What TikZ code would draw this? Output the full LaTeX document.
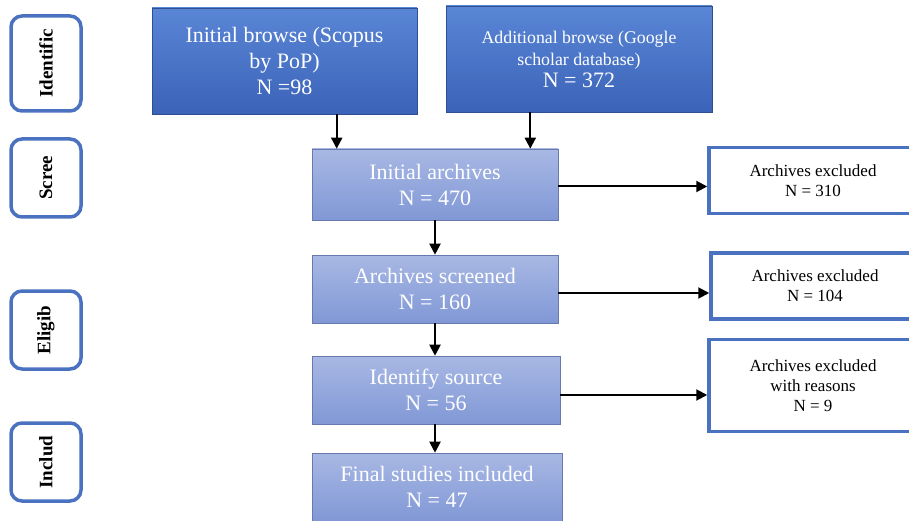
\documentclass[tikz,border=0pt]{standalone}
\usepackage{fontspec}
\setmainfont{Liberation Serif}
\usetikzlibrary{arrows.meta,calc}
\definecolor{dkblue}{HTML}{4472C4}
\definecolor{dktop}{HTML}{5A86D6}
\definecolor{dkbot}{HTML}{3B63B8}
\definecolor{lttop}{HTML}{A8B8E4}
\definecolor{ltbot}{HTML}{8198D6}
\definecolor{edgeblue}{HTML}{4A72C0}
\begin{document}
\begin{tikzpicture}[x=1pt,y=-1pt,
  darkbox/.style={draw=dkbot!80!black,line width=0.8pt,top color=dktop,bottom color=dkbot,text=white,align=center,inner sep=2pt},
  lightbox/.style={draw=ltbot!80!black,line width=0.6pt,top color=lttop,bottom color=ltbot,text=white,align=center,minimum width=246pt,minimum height=68pt,font=\fontsize{22}{26}\selectfont,inner sep=2pt},
  exbox/.style={draw=edgeblue,line width=3.5pt,fill=white,align=center,minimum width=208pt,font=\fontsize{17}{20}\selectfont},
  phase/.style={draw=edgeblue,line width=3.5pt,rounded corners=11pt,fill=white,rotate=90,minimum height=70pt,font=\bfseries\fontsize{19}{22}\selectfont},
  arr/.style={line width=2pt,-{Triangle[length=11pt,width=11pt]}}]
\path[use as bounding box,clip] (0,0) rectangle (909,521);
\fill[white] (0,0) rectangle (909,521);
% phase labels
\node[phase,minimum width=95pt] (p1) at (46,63.5) {Identific};
\node[phase,minimum width=78pt] (p2) at (46,178) {Scree};
\node[phase,minimum width=78pt] (p3) at (46,330) {Eligib};
\node[phase,minimum width=78pt] (p4) at (46,462) {Includ};
% top boxes
\node[darkbox,minimum width=265pt,minimum height=106pt,font=\fontsize{22}{26}\selectfont] (b1) at (284.5,61) {Initial browse (Scopus\\by PoP)\\N =98};
\node[darkbox,minimum width=266pt,minimum height=106pt,font=\fontsize{17.8}{22}\selectfont] (b2) at (579,59) {Additional browse (Google\\scholar database)\\{\fontsize{22}{22}\selectfont N = 372}};
% middle boxes
\node[lightbox,minimum height=71pt] (ia) at (435,184.5) {Initial archives\\N = 470};
\node[lightbox] (as) at (435,289) {Archives screened\\N = 160};
\node[lightbox,minimum width=248pt] (is) at (436,390) {Identify source\\N = 56};
\node[lightbox,minimum width=250pt] (fi) at (437,487) {Final studies included\\N = 47};
% excluded boxes
\node[exbox,minimum height=66pt] (e1) at (813,180.5) {Archives excluded\\N = 310};
\node[exbox,minimum height=66pt] (e2) at (815,286) {Archives excluded\\N = 104};
\node[exbox,minimum height=92pt] (e3) at (813,385.5) {Archives excluded\\with reasons\\N = 9};
% arrows
\draw[arr] ([xshift=25pt]b1.south -| ia.north west) -- ([xshift=25pt]ia.north west);
\draw[arr] ([xshift=-28pt]b2.south -| ia.north east) -- ([xshift=-28pt]ia.north east);
\draw[arr] (ia.south) -- (as.north);
\draw[arr] (as.south) -- (as.south |- is.north);
\draw[arr] (is.south -| as.south) -- (as.south |- fi.north);
\draw[arr] ([yshift=-2pt]ia.east) -- ([yshift=-2pt]ia.east -| e1.west);
\draw[arr] ([yshift=-4pt]as.east) -- ([yshift=-4pt]as.east -| e2.west);
\draw[arr] ([yshift=-5pt]is.east) -- ([yshift=-5pt]is.east -| e3.west);
\end{tikzpicture}
\end{document}
